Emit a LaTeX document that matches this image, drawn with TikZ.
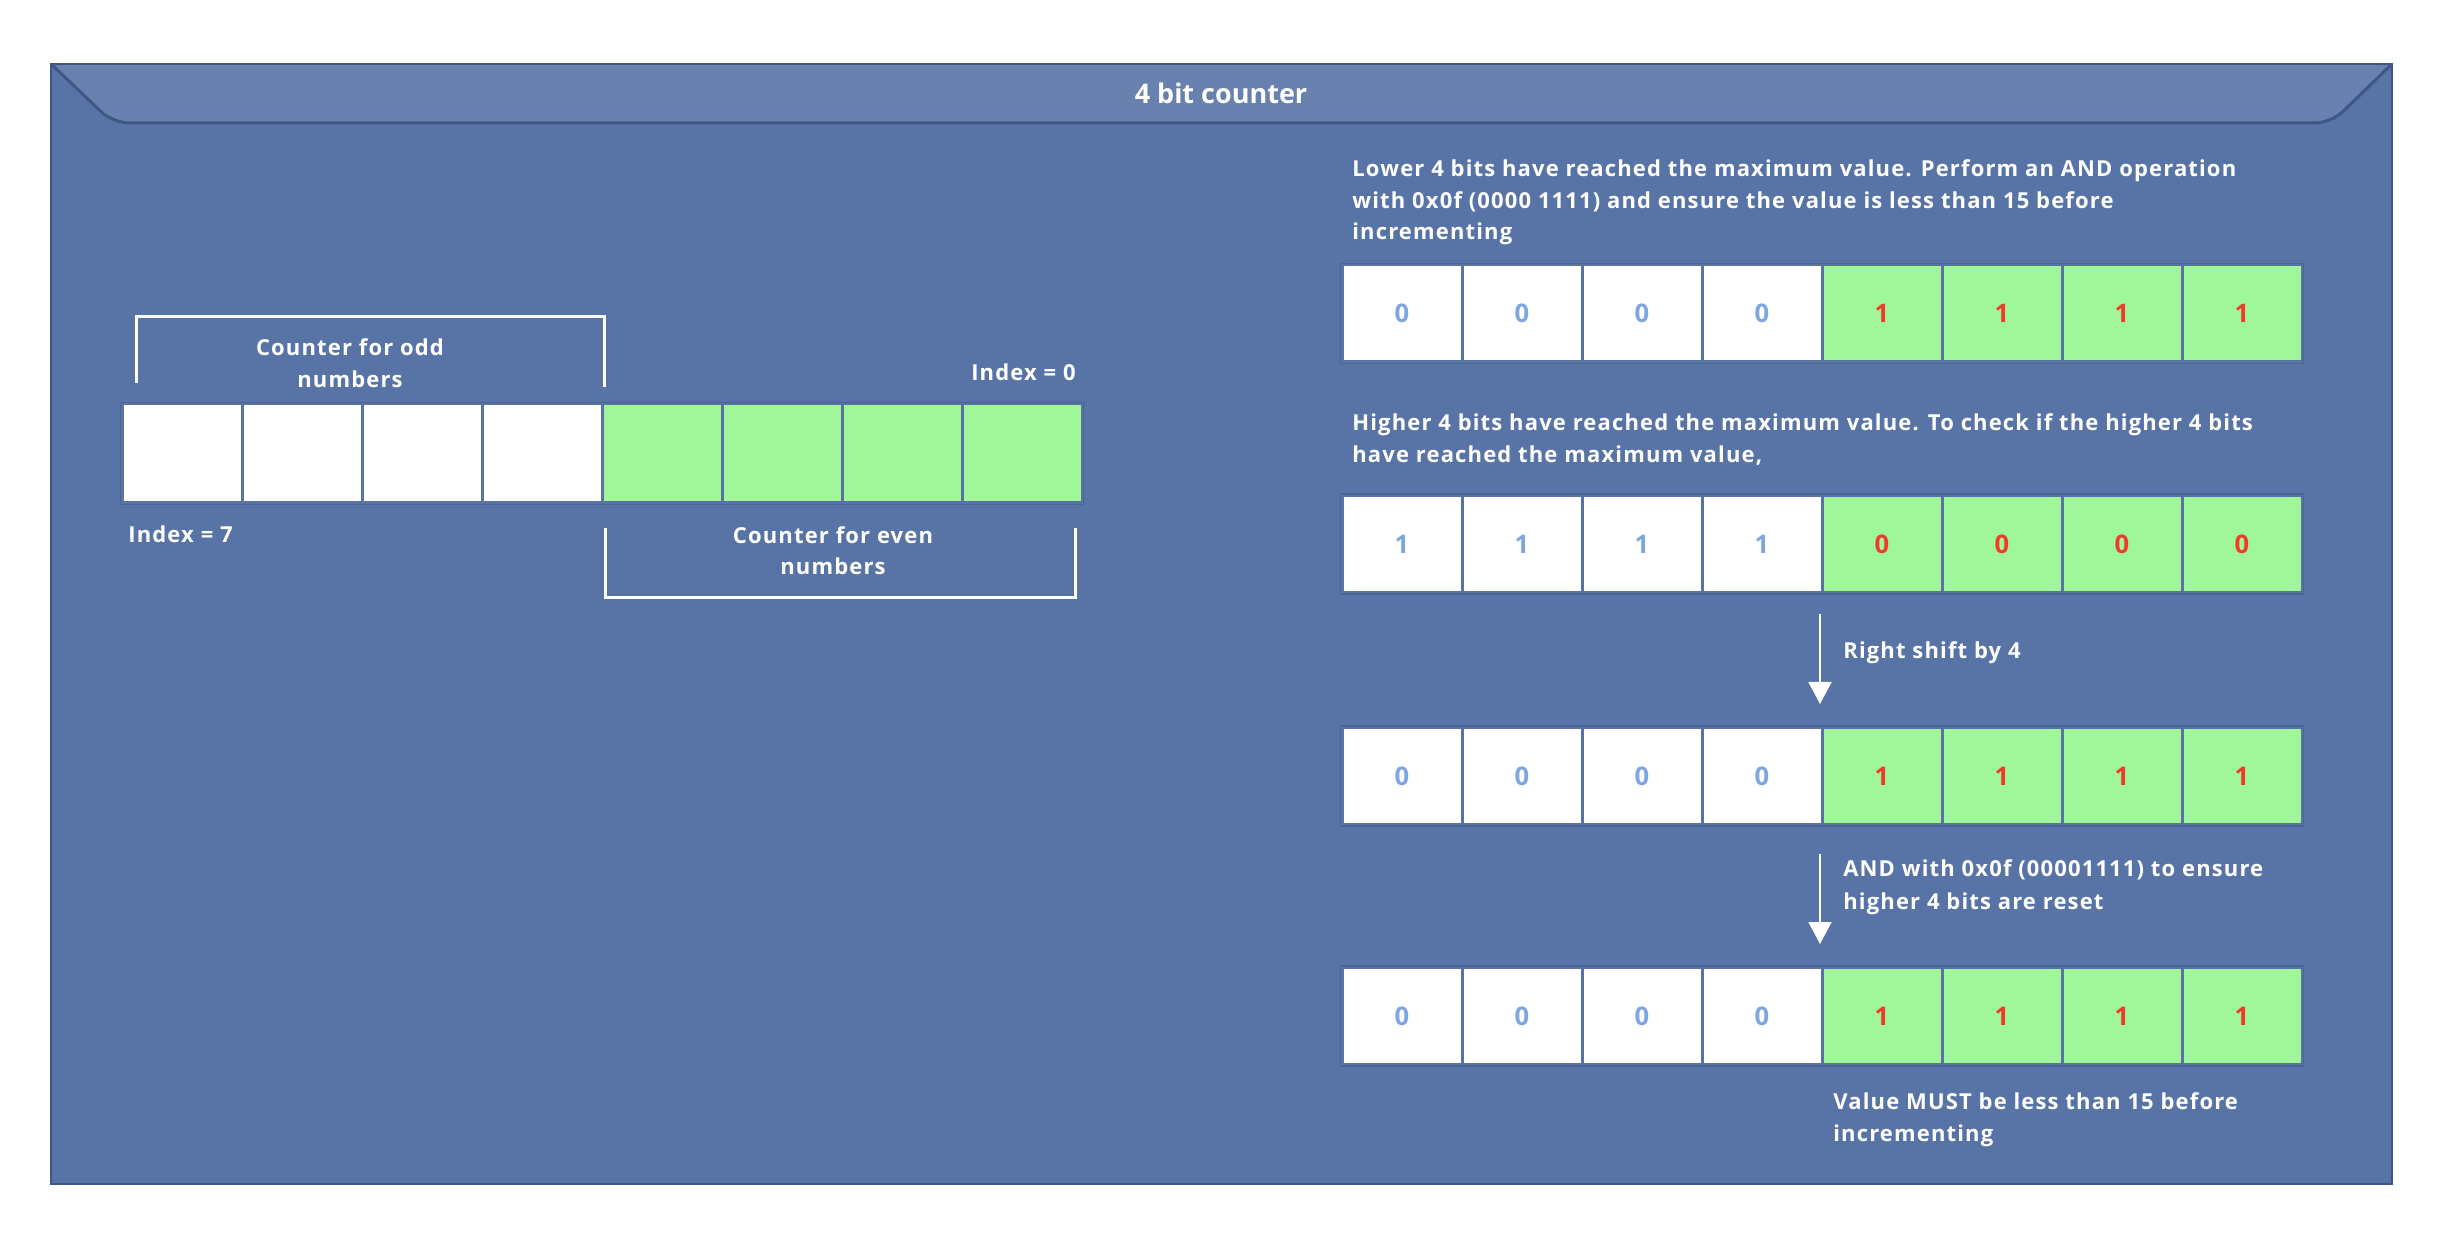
\documentclass[tikz,border=0pt]{standalone}
\usepackage{fontspec}
\setmainfont{Open Sans}
\newfontfamily\bodyfam{Open Sans}[LetterSpace=5.2]
\usetikzlibrary{arrows.meta}
\definecolor{frameFill}{HTML}{5874A6}
\definecolor{frameDraw}{HTML}{3F5683}
\definecolor{bandFill}{HTML}{6981AF}
\definecolor{bandLine}{HTML}{3F5785}
\definecolor{cellGreen}{HTML}{A0F79A}
\definecolor{cellLine}{HTML}{5B73A3}
\definecolor{rowLine}{HTML}{4D6592}
\definecolor{digitBlue}{HTML}{7EA6E0}
\definecolor{digitRed}{HTML}{EF3B2C}
\newcommand\myBody{\bodyfam\fontsize{11}{14}\selectfont\bfseries}
\newcommand\myTitle{\fontsize{13.5}{16}\selectfont\bfseries}
\newcommand\myDigit{\fontsize{12.8}{14}\selectfont\bfseries}
\begin{document}
\begin{tikzpicture}[x=0.5pt,y=-0.5pt,
  cellw/.style={draw=cellLine, line width=1.5pt, fill=white, minimum width=60pt,
    minimum height=48.5pt, inner sep=0pt, font=\myDigit, text=digitBlue},
  cellg/.style={cellw, fill=cellGreen, text=digitRed},
  lbl/.style={inner sep=0pt, text=white, font=\myBody},
  bracket/.style={draw=white, line width=1.5pt},
  arr/.style={draw=white, line width=1pt, -{Triangle[width=11.5pt,length=11pt]}}]
\useasboundingbox (0,0) rectangle (2438,1240);
% frame
\fill[frameFill] (51,64) rectangle (2392,1184);
\fill[bandFill] (51,64) [rounded corners=8pt]-- (113,123) -- (2331,123) [sharp corners]-- (2392,64) -- cycle;
\draw[bandLine, line width=1.5pt, rounded corners=8pt] (51,64) -- (113,123) -- (2331,123) -- (2392,64);
\draw[frameDraw, line width=1pt] (51,64) rectangle (2392,1184);
\node[lbl, font=\myTitle, anchor=base] (title) at (1221,104) {4 bit counter};
% left array
\foreach \i in {0,...,3} \node[cellw, minimum height=49.5pt] (L\i) at ({182+120*\i},453.5) {};
\foreach \i in {4,...,7} \node[cellg, minimum height=49.5pt] (L\i) at ({182+120*\i},453.5) {};
\draw[rowLine, line width=0.8pt] (L0.north west) rectangle (L7.south east);
% brackets
\coordinate (ob1) at (136,383); \coordinate (ob2) at (136,317);
\coordinate (ob3) at (604,317); \coordinate (ob4) at (604,387);
\draw[bracket] (ob1) -- (ob2) -- (ob3) -- (ob4);
\coordinate (eb1) at (605,528); \coordinate (eb2) at (605,598);
\coordinate (eb3) at (1075,598); \coordinate (eb4) at (1075,528);
\draw[bracket] (eb1) -- (eb2) -- (eb3) -- (eb4);
\node[lbl, anchor=base] (odd1) at (350,356) {Counter for odd};
\node[lbl, anchor=base] (odd2) at (350,388) {numbers};
\node[lbl, anchor=base east] (idx0) at (1076,381) {Index = 0};
\node[lbl, anchor=base west] (idx7) at (128,543) {Index = 7};
\node[lbl, anchor=base] (even1) at (833,544) {Counter for even};
\node[lbl, anchor=base] (even2) at (833,575) {numbers};
% right rows
\foreach \r/\y/\a/\b in {1/313.5/0/1, 2/544/1/0, 3/776/0/1, 4/1016/0/1} {
  \foreach \i in {0,...,3} \node[cellw] (R\r-\i) at ({1402+120*\i},\y) {\a};
  \foreach \i in {4,...,7} \node[cellg] (R\r-\i) at ({1402+120*\i},\y) {\b};
  \draw[rowLine, line width=0.8pt] (R\r-0.north west) rectangle (R\r-7.south east);
}
\node[lbl, anchor=base west] (t1a) at (1352,176.7) {Lower 4 bits have reached the maximum value. Perform an AND operation};
\node[lbl, anchor=base west] (t1b) at (1352,208.2) {with 0x0f (0000 1111) and ensure the value is less than 15 before};
\node[lbl, anchor=base west] (t1c) at (1352,239.7) {incrementing};
\node[lbl, anchor=base west] (t2a) at (1352,431) {Higher 4 bits have reached the maximum value. To check if the higher 4 bits};
\node[lbl, anchor=base west] (t2b) at (1352,463) {have reached the maximum value,};
\coordinate (a1s) at (1820,614); \coordinate (a1e) at (1820,704);
\coordinate (a2s) at (1820,854); \coordinate (a2e) at (1820,944);
\draw[arr] (a1s) -- (a1e);
\draw[arr] (a2s) -- (a2e);
\node[lbl, anchor=base west] (rs) at (1843,659) {Right shift by 4};
\node[lbl, anchor=base west] (and1) at (1843,877) {AND with 0x0f (00001111) to ensure};
\node[lbl, anchor=base west] (and2) at (1843,909) {higher 4 bits are reset};
\node[lbl, anchor=base west] (v1) at (1833,1109) {Value MUST be less than 15 before};
\node[lbl, anchor=base west] (v2) at (1833,1141) {incrementing};
\end{tikzpicture}
\end{document}
